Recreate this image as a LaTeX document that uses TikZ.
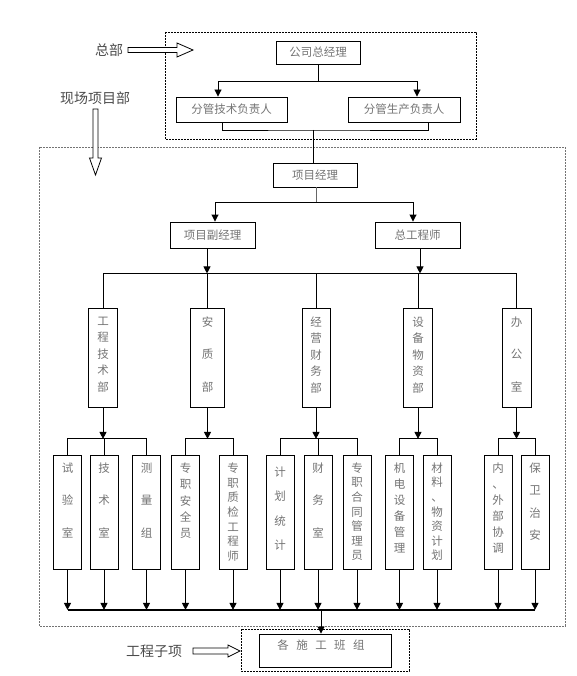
\documentclass[tikz,border=0pt]{standalone}
\usepackage{fontspec}
\newfontfamily\cjk{Noto Sans CJK SC}
\usetikzlibrary{arrows.meta,calc}
\newcommand\colbox[8]{%
  \node[box, minimum width=#4, minimum height=#5, anchor=north] (#1) at (#2,#3) {};
  \node[vt=#6, anchor=north] (#1t) at ([yshift=-#7pt]#1.north) {#8};}
\begin{document}
\begin{tikzpicture}[x=1pt,y=-1pt,
  box/.style={draw, line width=0.9pt, inner sep=0pt, font=\cjk\fontsize{11.5}{14}\selectfont, text=black!55},
  vt/.style={font=\cjk\fontsize{11.5}{#1}\selectfont, text=black!55, align=center, inner sep=0pt},
  ln/.style={line width=0.9pt},
  arr/.style={line width=0.9pt, -{Triangle[width=7pt,length=7pt]}},
  dsh/.style={line width=0.8pt, dash pattern=on 2pt off 1pt},
  lbl/.style={font=\cjk\fontsize{14}{16}\selectfont, text=black!70},
  hol/.style={draw, line width=0.8pt, fill=white}]
\useasboundingbox (0,0) rectangle (576,676);

% dashed frames
\draw[dsh] (165,32) rectangle (476,139);
\draw[dsh, black!55] (39,147) rectangle (565,626);
\draw[dsh] (241,629) rectangle (409,671);

% headquarters
\node[box, minimum width=84, minimum height=23] (gm) at (318,52.5) {公司总经理};
\node[box, minimum width=111, minimum height=25] (tech) at (231.5,109.5) {分管技术负责人};
\node[box, minimum width=112, minimum height=25] (prod) at (404,109.5) {分管生产负责人};
\coordinate (j1) at (318,81);
\draw[ln] (gm.south) -- (j1);
\draw[arr] (j1) -| ([xshift=-13.5pt]tech.north);
\draw[arr] (j1) -| ([xshift=13pt]prod.north);

% project manager
\node[box, minimum width=84, minimum height=24] (pm) at (315,175) {项目经理};
\coordinate (j2) at (313,130);
\draw[ln] ([xshift=-9.5pt]tech.south) |- (j2) -| ([xshift=24pt]prod.south);
\draw[ln] (j2) -- (j2 |- pm.north);

\node[box, minimum width=85, minimum height=26] (dpm) at (212.5,235) {项目副经理};
\node[box, minimum width=85, minimum height=26] (ce) at (417.5,235) {总工程师};
\coordinate (j3) at (316,202);
\draw[line width=0.6pt, black!60] (pm.south -| j3) -- (j3);
\draw[arr] (j3) -| ([xshift=2.5pt]dpm.north);
\draw[arr] (j3) -| ([xshift=-4.5pt]ce.north);

% departments
\colbox{d1}{103}{308}{29}{99}{16.5}{8.5}{工\\程\\技\\术\\部}
\colbox{d2}{207.5}{308}{34}{99}{32.5}{8.5}{安\\质\\部}
\colbox{d3}{316}{308}{28}{99}{16.5}{8.5}{经\\营\\财\\务\\部}
\colbox{d4}{418}{308}{29}{99}{16.5}{8.5}{设\\备\\物\\资\\部}
\colbox{d5}{516.5}{308}{29}{99}{32.5}{8.5}{办\\公\\室}

\draw[arr] ([xshift=-5.5pt]dpm.south) -- ++(0,25);
\draw[arr] ([xshift=2.5pt]ce.south) -- ++(0,25);
\coordinate (g0) at (0,273);
\draw[ln] (d1.north) |- (d5.north |- g0) -- (d5.north);
\foreach \d in {d2,d3,d4} \draw[ln] (\d.north) -- (\d.north |- g0);

% sub units
\colbox{s1}{67.5}{455}{28}{114}{32.5}{7.5}{试\\验\\室}
\colbox{s2}{104}{455}{28}{114}{32.5}{7.5}{技\\术\\室}
\colbox{s3}{146.5}{455}{28}{114}{32.5}{7.5}{测\\量\\组}
\colbox{s4}{185.5}{455}{28}{114}{16.4}{7.5}{专\\职\\安\\全\\员}
\colbox{s5}{233}{455}{28}{114}{14.7}{7.5}{专\\职\\质\\检\\工\\程\\师}
\colbox{s6}{280}{455}{28}{114}{24.5}{11.5}{计\\划\\统\\计}
\colbox{s7}{318}{455}{28}{114}{32.5}{7.5}{财\\务\\室}
\colbox{s8}{357}{455}{28}{114}{14.6}{7.5}{专\\职\\合\\同\\管\\理\\员}
\colbox{s9}{399.5}{455}{28}{114}{16}{7.5}{机\\电\\设\\备\\管\\理}
\colbox{s10}{437}{455}{28}{114}{14.6}{7.5}{材\\料\\、\\物\\资\\计\\划}
\colbox{s11}{498}{455}{28}{114}{16}{7.5}{内\\、\\外\\部\\协\\调}
\colbox{s12}{535}{455}{28}{114}{22.5}{7.5}{保\\卫\\治\\安}

\foreach \d in {d1,d2,d3,d4,d5} \draw[arr] (\d.south) -- ++(0,31);
\coordinate (g1) at (0,438);
\draw[ln] (s1.north) |- (s3.north |- g1) -- (s3.north);
\draw[ln] (s2.north) -- (s2.north |- g1);
\draw[ln] (s4.north) |- (s5.north |- g1) -- (s5.north);
\draw[ln] (s6.north) |- (s8.north |- g1) -- (s8.north);
\draw[ln] (s7.north) -- (s7.north |- g1);
\draw[ln] (s9.north) |- (s10.north |- g1) -- (s10.north);
\draw[ln] (s11.north) |- (s12.north |- g1) -- (s12.north);

% collecting line
\foreach \s in {s1,s2,s3,s4,s5,s6,s7,s8,s9,s10,s11,s12} \draw[arr] (\s.south) -- ++(0,40);
\coordinate (b0) at (0,610);
\draw[line width=1.4pt] (s1.south |- b0) -- (s12.south |- b0);

% work teams
\node[box, minimum width=132, minimum height=33] (team) at (325,650.5) {};
\node[font=\cjk\fontsize{11.5}{14}\selectfont, text=black!55, inner sep=0pt] (teamt) at (321,645)
  {各\hspace{7.5pt}施\hspace{7.5pt}工\hspace{7.5pt}班\hspace{7.5pt}组};
\coordinate (b1) at (321,610);
\draw[arr] (b1) -- (b1 |- team.north);

% side labels
\node[lbl] (hq) at (109,50) {总部};
\node[lbl] (site) at (95,98) {现场项目部};
\node[lbl] (sub) at (154,651) {工程子项};
\draw[hol] (128,47.5) -- (177,47.5) -- (177,43) -- (193,50) -- (177,57) -- (177,52.5) -- (128,52.5) -- cycle;
\draw[hol] (93,109) -- (98,109) -- (98,158) -- (101.5,158) -- (95.5,175) -- (89.5,158) -- (93,158) -- cycle;
\draw[hol] (193,648) -- (228,648) -- (228,645) -- (240,651) -- (228,657) -- (228,654) -- (193,654) -- cycle;
\end{tikzpicture}
\end{document}
